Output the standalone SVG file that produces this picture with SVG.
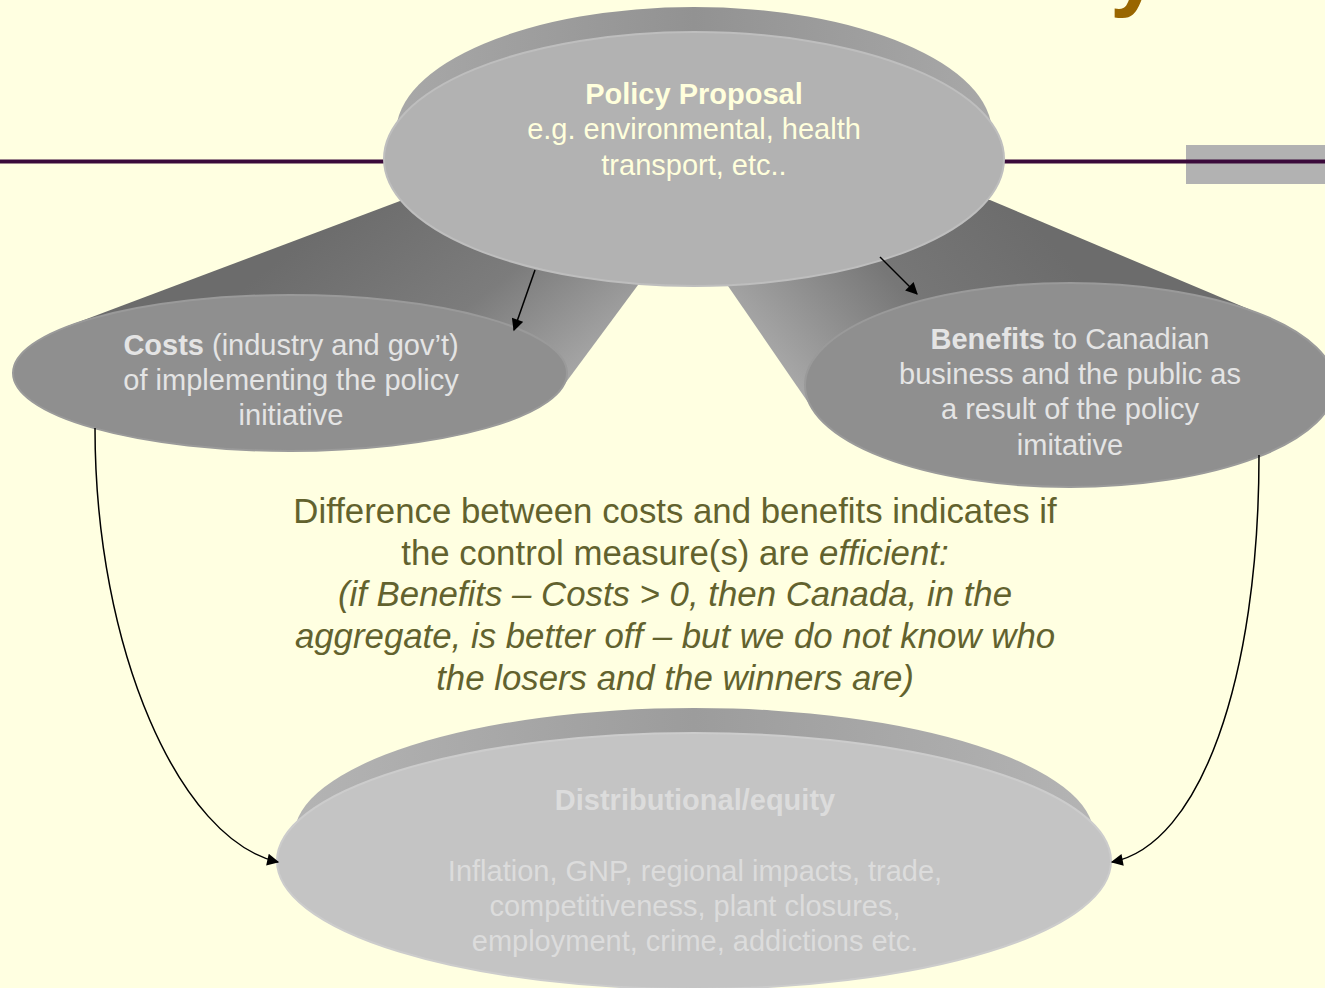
<svg xmlns="http://www.w3.org/2000/svg" width="1325" height="988" viewBox="0 0 1325 988">
<defs>
<style>
.nt{font-family:"Liberation Sans",Arial,sans-serif;font-size:29px;text-anchor:middle}
.top{fill:#FFFFDC}
.side{fill:#E4E4E4}
.bot{fill:#DCDCDC}
.mid{font-family:"Liberation Sans",Arial,sans-serif;font-size:34.8px;text-anchor:middle;fill:#62622E}
.b{font-weight:bold}
.it{font-style:italic}
.conn{fill:none;stroke:#000;stroke-width:1.5}
</style>
<marker id="ah2" viewBox="0 0 10 10" refX="9" refY="5" markerWidth="14" markerHeight="12" markerUnits="userSpaceOnUse" orient="auto">
<path d="M0,0 L10,5 L0,10 z" fill="#000"/>
</marker>
<linearGradient id="gL" gradientUnits="userSpaceOnUse" x1="330" y1="220" x2="500" y2="440">
<stop offset="0" stop-color="#6c6c6c"/>
<stop offset="0.55" stop-color="#7c7c7c"/>
<stop offset="1" stop-color="#a8a8a8"/>
</linearGradient>
<linearGradient id="gR" gradientUnits="userSpaceOnUse" x1="770" y1="360" x2="990" y2="170">
<stop offset="0" stop-color="#a8a8a8"/>
<stop offset="0.5" stop-color="#777777"/>
<stop offset="1" stop-color="#6c6c6c"/>
</linearGradient>
<linearGradient id="gRim" x1="0" y1="0" x2="1" y2="0">
<stop offset="0" stop-color="#a8a8a8"/>
<stop offset="0.5" stop-color="#929292"/>
<stop offset="1" stop-color="#a8a8a8"/>
</linearGradient>
<linearGradient id="gRimB" x1="0" y1="0" x2="1" y2="0">
<stop offset="0" stop-color="#b4b4b4"/>
<stop offset="0.5" stop-color="#9c9c9c"/>
<stop offset="1" stop-color="#b4b4b4"/>
</linearGradient>
</defs>
<rect width="1325" height="988" fill="#FFFFE1"/>
<text x="1110" y="-1" font-family="Liberation Sans,Arial,sans-serif" font-size="90" font-weight="bold" fill="#996600">y</text>
<rect x="1186" y="145" width="139" height="39" fill="#B2B2B2"/>
<line x1="0" y1="161.5" x2="1325" y2="161.5" stroke="#3a0a3a" stroke-width="4"/>

<g id="band-costs">
<polygon points="68,326 400,201 660,201 638,285 561,389 290,373" fill="url(#gL)"/>
</g>
<g id="band-benefits">
<polygon points="1265,316 990,200 720,200 728,286 814,411 1070,385" fill="url(#gR)"/>
</g>

<g id="policy">
<ellipse cx="694" cy="133" rx="298" ry="126" fill="url(#gRim)"/>
<ellipse cx="694" cy="159" rx="310" ry="127" fill="#B2B2B2" stroke="#BEBEBE" stroke-width="2"/>
<text class="nt top b" x="694" y="104">Policy Proposal</text>
<text class="nt top" x="694" y="139">e.g. environmental, health</text>
<text class="nt top" x="694" y="175">transport, etc..</text>
</g>

<g id="costs">
<ellipse cx="290" cy="373" rx="277" ry="78" fill="#8F8F8F" stroke="#9A9A9A" stroke-width="2"/>
<text class="nt side" x="291" y="355"><tspan class="b">Costs</tspan> (industry and gov’t)</text>
<text class="nt side" x="291" y="390">of implementing the policy</text>
<text class="nt side" x="291" y="425">initiative</text>
</g>

<g id="benefits">
<ellipse cx="1070" cy="385" rx="265" ry="102" fill="#8F8F8F" stroke="#9A9A9A" stroke-width="2"/>
<text class="nt side" x="1070" y="349"><tspan class="b">Benefits</tspan> to Canadian</text>
<text class="nt side" x="1070" y="384">business and the public as</text>
<text class="nt side" x="1070" y="419">a result of the policy</text>
<text class="nt side" x="1070" y="455">imitative</text>
</g>

<g id="note">
<text class="mid" x="675" y="523">Difference between costs and benefits indicates if</text>
<text class="mid" x="675" y="565">the control measure(s) are <tspan class="it">efficient:</tspan></text>
<text class="mid it" x="675" y="606">(if Benefits – Costs &gt; 0, then Canada, in the</text>
<text class="mid it" x="675" y="648">aggregate, is better off – but we do not know who</text>
<text class="mid it" x="675" y="690">the losers and the winners are)</text>
</g>

<g id="distributional">
<ellipse cx="694" cy="836" rx="400" ry="128" fill="url(#gRimB)"/>
<ellipse cx="694" cy="861" rx="417" ry="128" fill="#C4C4C4" stroke="#CCCCCC" stroke-width="2"/>
<text class="nt bot b" x="695" y="810">Distributional/equity</text>
<text class="nt bot" x="695" y="881">Inflation, GNP, regional impacts, trade,</text>
<text class="nt bot" x="695" y="916">competitiveness, plant closures,</text>
<text class="nt bot" x="695" y="951">employment, crime, addictions etc.</text>
</g>

<g id="connectors">
<line class="conn" x1="535" y1="270" x2="514" y2="330" marker-end="url(#ah2)"/>
<line class="conn" x1="880" y1="257" x2="917" y2="294" marker-end="url(#ah2)"/>
<path class="conn" d="M95,428 C95,650 180,840 278,862" marker-end="url(#ah2)"/>
<path class="conn" d="M1259,455 C1259,680 1200,845 1112,862" marker-end="url(#ah2)"/>
</g>
</svg>
